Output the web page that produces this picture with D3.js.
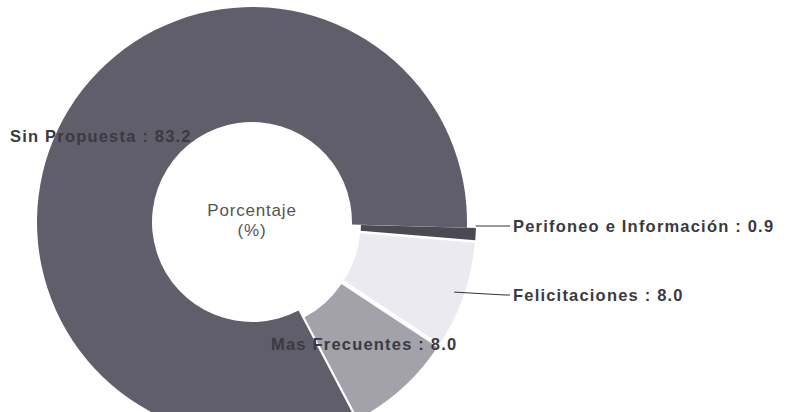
<!DOCTYPE html>
<html>
<head>
<meta charset="utf-8">
<script src="https://cdn.jsdelivr.net/npm/d3@7"></script>
<style>
  body { margin: 0; background: #fff; }
  svg { display: block; }
  .lbl { font-family: "Liberation Sans", Arial, sans-serif; font-weight: bold; font-size: 16.5px; fill: #3a3a40; letter-spacing: 1.2px; }
  .center { font-family: "Liberation Sans", Arial, sans-serif; font-size: 17px; fill: #555; letter-spacing: 0.8px; }
</style>
</head>
<body>
<div id="chart"></div>
<script>
// data
const categories = ["Perifoneo e Información", "Felicitaciones", "Mas Frecuentes", "Sin Propuesta"];
const values = [0.9, 8.0, 8.0, 83.2];
const colors = ["#4a4954", "#eaeaf0", "#a3a2aa", "#615e6c"];
const exploded = [true, true, true, false];

function init() {
    const width = 787;
    const height = 412;
    const cx = 252, cy = 222;
    const outerR = 215, innerR = 100;
    const pull = 9;

    const svg = d3.select("#chart")
                  .append("svg")
                  .attr("width", width)
                  .attr("height", height);

    const data = categories.map((c, i) => ({ name: c, value: values[i], color: colors[i], out: exploded[i] }));

    const pie = d3.pie()
                  .sort(null)
                  .value(d => d.value)
                  .startAngle(91.5 * Math.PI / 180)
                  .endAngle(91.5 * Math.PI / 180 + 2 * Math.PI);

    const arc = d3.arc().innerRadius(innerR).outerRadius(outerR);
    const arcs = pie(data);

    const g = svg.append("g").attr("transform", `translate(${cx},${cy})`);

    // offset of exploded slices along their bisector
    function shift(d) {
        if (!d.data.out) return [0, 0];
        const a = (d.startAngle + d.endAngle) / 2;
        return [Math.sin(a) * pull, -Math.cos(a) * pull];
    }

    g.selectAll("path")
     .data(arcs)
     .enter()
     .append("path")
     .attr("d", arc)
     .attr("transform", d => `translate(${shift(d)})`)
     .style("fill", d => d.data.color);

    // centre text
    g.append("text").attr("class", "center").attr("text-anchor", "middle").attr("y", -6).text("Porcentaje");
    g.append("text").attr("class", "center").attr("text-anchor", "middle").attr("y", 14).text("(%)");

    // label placement (screen coords)
    const labelPos = {
        "Sin Propuesta": { x: 10, y: 142, anchor: "start" },
        "Perifoneo e Información": { x: 513, y: 232, anchor: "start", line: true },
        "Felicitaciones": { x: 513, y: 301, anchor: "start", line: true },
        "Mas Frecuentes": { x: 271, y: 350, anchor: "start" }
    };

    arcs.forEach(d => {
        const p = labelPos[d.data.name];
        if (p.line) {
            const a = (d.startAngle + d.endAngle) / 2;
            const s = shift(d);
            const yl = p.y - 6;
            let path;
            if (d.data.name === "Felicitaciones") {
                const x0 = cx + s[0] + Math.sin(a) * (outerR - 10);
                const y0 = cy + s[1] - Math.cos(a) * (outerR - 10);
                path = `M${x0},${y0}L${p.x - 8},${yl}L${p.x - 3},${yl}`;
            } else {
                const x0 = cx + s[0] + Math.sin(a) * outerR;
                path = `M${x0},${yl}L${p.x - 3},${yl}`;
            }
            svg.append("path")
               .attr("d", path)
               .attr("fill", "none")
               .attr("stroke", "#333")
               .attr("stroke-width", 1);
        }
        svg.append("text")
           .attr("class", "lbl")
           .attr("x", p.x)
           .attr("y", p.y)
           .attr("text-anchor", p.anchor)
           .text(`${d.data.name} : ${d.data.value.toFixed(1)}`);
    });
}

window.onload = init;
</script>
</body>
</html>
